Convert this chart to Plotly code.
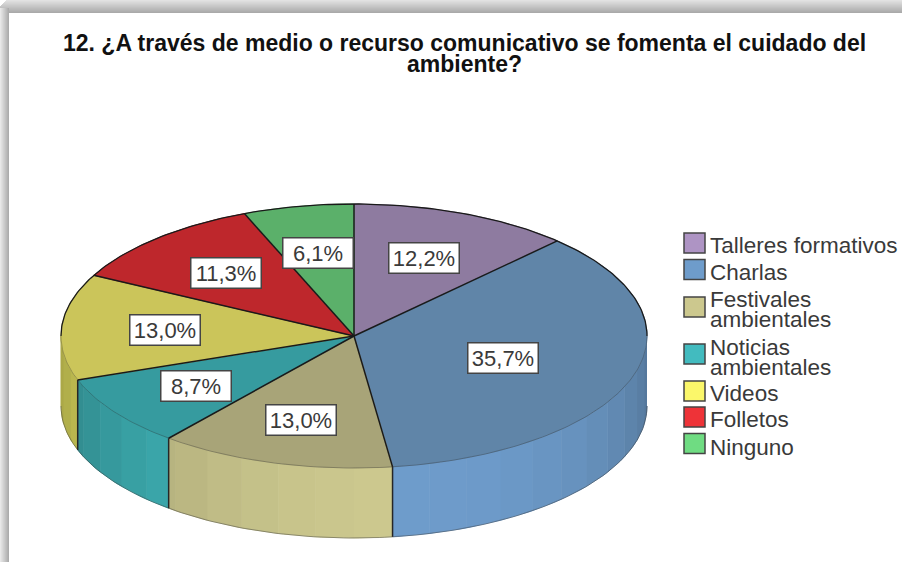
import numpy as np
import plotly.graph_objects as go

# Data
categories = ['Talleres formativos', 'Charlas', 'Festivales\nambientales', 'Noticias\nambientales',
              'Videos', 'Folletos', 'Ninguno']
values = [12.2, 35.7, 13.0, 8.7, 13.0, 11.3, 6.1]
title_lines = ['12. ¿A través de medio o recurso comunicativo se fomenta el cuidado del', 'ambiente?']

# Colours
legend_colors = ['#AE94C4', '#6E9CCB', '#CCC88E', '#42BBBF', '#FBF76A', '#EE3338', '#6FDC82']
top_colors = ['#8E7BA0', '#6085A8', '#A8A478', '#369B9F', '#CBC55A', '#BE272C', '#5BB06A']

# Pie geometry, in page pixels
cx, cy = 354, 336
rx, ry = 293, 132
depth = 70
band_step = 7.5
label_r = [0.64, 0.535, 0.66, 0.66, 0.645, 0.65, 0.64]
font = 'Liberation Sans'


def ex(theta):
    return cx + rx * np.sin(np.radians(theta))


def ey(theta):
    return cy - ry * np.cos(np.radians(theta))


def shaded(color, f):
    r, g, b = [int(color[i:i + 2], 16) for i in (1, 3, 5)]
    return f'rgb({r * f:.0f},{g * f:.0f},{b * f:.0f})'


def add_poly(fig, x, y, fill):
    fig.add_trace(go.Scatter(x=x, y=y, mode='lines', fill='toself', fillcolor=fill,
                             line=dict(width=1, color=fill), hoverinfo='skip', showlegend=False))


def add_line(fig, x, y, color='#1a1a1a', width=1.5):
    fig.add_trace(go.Scatter(x=x, y=y, mode='lines', line=dict(color=color, width=width),
                             hoverinfo='skip', showlegend=False))


edges = np.concatenate([[0], np.cumsum(values)]) * 3.6
fig = go.Figure()

#%% side wall, back to front
for i in range(len(values)):
    a0, a1 = max(edges[i], 90), min(edges[i + 1], 270)
    if a1 <= a0:
        continue
    grid = np.arange(np.ceil(a0 / band_step), np.floor(a1 / band_step) + 1) * band_step
    stops = np.unique(np.concatenate([[a0], grid, [a1]]))
    for s0, s1 in zip(stops[:-1], stops[1:]):
        t = np.linspace(s0, s1, 8)
        f = max(0.68, 0.7 + 0.3 * np.cos(np.radians((s0 + s1) / 2 - 170)))
        add_poly(fig,
                 np.concatenate([ex(t), ex(t[::-1])]),
                 np.concatenate([ey(t), ey(t[::-1]) + depth]),
                 shaded(legend_colors[i], f))

# faint outline along the bottom of the wall
t = np.linspace(90, 270, 181)
add_line(fig, ex(t), ey(t) + depth, color='rgba(60,60,60,0.45)', width=1)

#%% top face
for i in range(len(values)):
    t = np.linspace(edges[i], edges[i + 1], 90)
    add_poly(fig, np.concatenate([[cx], ex(t), [cx]]), np.concatenate([[cy], ey(t), [cy]]), top_colors[i])

# rim: dark at the back, faint at the front
t = np.linspace(-90, 90, 181)
add_line(fig, ex(t), ey(t), width=1.3)
t = np.linspace(90, 270, 181)
add_line(fig, ex(t), ey(t), color='rgba(40,40,40,0.3)', width=1)

# slice edges, and their drop down the wall where it shows
for a in edges[:-1]:
    add_line(fig, [cx, ex(a)], [cy, ey(a)])
    if 90 < a < 270:
        add_line(fig, [ex(a), ex(a)], [ey(a), ey(a) + depth], color='#262626')

#%% labels on the slices
annotations = []
for i, v in enumerate(values):
    mid = (edges[i] + edges[i + 1]) / 2
    annotations.append(dict(
        x=cx + label_r[i] * rx * np.sin(np.radians(mid)),
        y=cy - label_r[i] * ry * np.cos(np.radians(mid)),
        text=f'{v:.1f}%'.replace('.', ','), showarrow=False,
        font=dict(family=font, size=22, color='#3a3a3a'),
        bgcolor='white', bordercolor='#444444', borderwidth=1.5, borderpad=0,
        width=69, height=29))

#%% title
for line, y in zip(title_lines, [43, 64]):
    annotations.append(dict(x=464, y=y, text=f'<b>{line}</b>', showarrow=False,
                            font=dict(family=font, size=23, color='#111111')))

#%% legend
swatch_y = [243, 269.5, 307, 354, 391, 417, 443.5]
text_y = [[245], [272], [299, 319.5], [347, 367], [393], [419], [447]]
shapes = []
for name, color, sy, ys in zip(categories, legend_colors, swatch_y, text_y):
    shapes.append(dict(type='rect', x0=684, x1=705, y0=sy - 10, y1=sy + 10,
                       fillcolor=color, line=dict(color='#444444', width=1.5)))
    for line, y in zip(name.split('\n'), ys):
        annotations.append(dict(x=708, y=y, text=line, showarrow=False, xanchor='left',
                                font=dict(family=font, size=22.5, color='#3a3a3a')))

#%% grey shadow along the top and left of the page
top_band = 13
left_band = 9
for k in range(top_band):
    g = int(226 - 56 * k / (top_band - 1))
    shapes.append(dict(type='rect', x0=max(0, 6 - k), x1=902, y0=k, y1=k + 1, layer='below',
                       fillcolor=f'rgb({g},{g},{g})', line=dict(width=0)))
for k in range(left_band):
    g = int(232 - 60 * k / (left_band - 1))
    shapes.append(dict(type='rect', x0=k, x1=k + 1, y0=max(0, 8 - k) + k, y1=562, layer='below',
                       fillcolor=f'rgb({g},{g},{g})', line=dict(width=0)))

fig.update_layout(
    width=902, height=562,
    margin=dict(l=0, r=0, t=0, b=0),
    paper_bgcolor='white', plot_bgcolor='white',
    showlegend=False,
    xaxis=dict(range=[0, 902], visible=False, fixedrange=True),
    yaxis=dict(range=[562, 0], visible=False, fixedrange=True),
    annotations=annotations,
    shapes=shapes,
)

fig.write_html('out.html', config=dict(displayModeBar=False),
               post_script="document.body.style.margin='0';document.body.style.overflow='hidden';")
